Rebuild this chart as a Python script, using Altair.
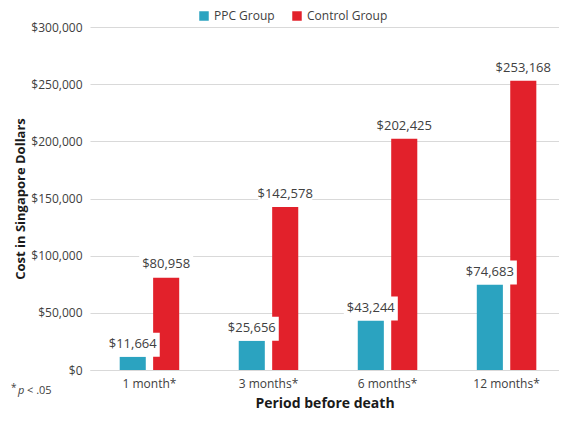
import altair as alt
import pandas as pd

periods = ["1 month*", "3 months*", "6 months*", "12 months*"]
groups = ["PPC Group", "Control Group"]
ppc_values = [11664, 25656, 43244, 74683]
control_values = [80958, 142578, 202425, 253168]
colors = ["#2BA3C0", "#E2212B"]
y_ticks = [0, 50000, 100000, 150000, 200000, 250000, 300000]

rows = []
for p, a, b in zip(periods, ppc_values, control_values):
    rows.append({"period": p, "group": groups[0], "value": a, "label": f"${a:,}"})
    rows.append({"period": p, "group": groups[1], "value": b, "label": f"${b:,}"})
df = pd.DataFrame(rows)

W, H = 469, 343
FONT = "Open Sans"

x_enc = alt.X("period:N", sort=periods, title="Period before death",
              scale=alt.Scale(paddingInner=0.5, paddingOuter=0.22, align=0.567),
              axis=alt.Axis(labelAngle=0, ticks=False, labelPadding=8, labelFontSize=12,
                            labelColor="#404040", titleFontSize=14, titleFontWeight="bold",
                            titleColor="#1a1a1a", titlePadding=7, domainColor="#D9D9D9",
                            labelFont=FONT, titleFont=FONT))
xo_enc = alt.XOffset("group:N", sort=groups, scale=alt.Scale(paddingInner=0.22))
y_enc = alt.Y("value:Q", title="Cost in Singapore Dollars",
              scale=alt.Scale(domain=[0, 300000], nice=False),
              axis=alt.Axis(values=y_ticks, format="$,.0f", ticks=False, domain=False,
                            labelPadding=8, labelFontSize=12, labelColor="#404040",
                            titleFontSize=13, titleFontWeight="bold", titleColor="#1a1a1a",
                            titlePadding=3, gridColor="#D9D9D9", labelFont=FONT, titleFont=FONT))

base = alt.Chart(df)

bars = base.mark_bar().encode(
    x=x_enc, xOffset=xo_enc, y=y_enc,
    color=alt.Color("group:N", sort=groups, scale=alt.Scale(domain=groups, range=colors),
                    legend=alt.Legend(orient="none", legendX=108, legendY=-17, direction="horizontal",
                                      title=None, symbolType="square", symbolSize=90,
                                      symbolStrokeWidth=0, labelFontSize=12, labelColor="#404040",
                                      labelFont=FONT, columnPadding=16, labelOffset=4)),
)

boxes = base.mark_point(
    shape="M-0.9,-0.8L0.9,-0.8L0.9,0L-0.9,0Z", filled=True, color="white", opacity=1, size=3600
).encode(x=x_enc, xOffset=xo_enc, y=y_enc)

labels = base.mark_text(baseline="bottom", dy=-6, fontSize=13, color="#404040", font=FONT).encode(
    x=x_enc, xOffset=xo_enc, y=y_enc, text="label:N")

foot_star = alt.Chart(pd.DataFrame({"t": ["*"]})).mark_text(
    align="left", baseline="alphabetic", fontSize=10, color="#404040", font=FONT
).encode(text="t:N", x=alt.value(-79), y=alt.value(H + 21))
foot_p = alt.Chart(pd.DataFrame({"t": ["p"]})).mark_text(
    align="left", baseline="alphabetic", fontSize=11, fontStyle="italic", color="#404040", font=FONT
).encode(text="t:N", x=alt.value(-72), y=alt.value(H + 24))
foot_rest = alt.Chart(pd.DataFrame({"t": ["< .05"]})).mark_text(
    align="left", baseline="alphabetic", fontSize=11, color="#404040", font=FONT
).encode(text="t:N", x=alt.value(-63), y=alt.value(H + 24))

chart = alt.layer(bars, boxes, labels, foot_star, foot_p, foot_rest).properties(
    width=W, height=H, background="white",
    padding={"left": 3, "top": 2, "right": 0, "bottom": 0}
).configure_view(stroke=None)

chart.save("out.html", embed_options={"renderer": "svg", "actions": False})
